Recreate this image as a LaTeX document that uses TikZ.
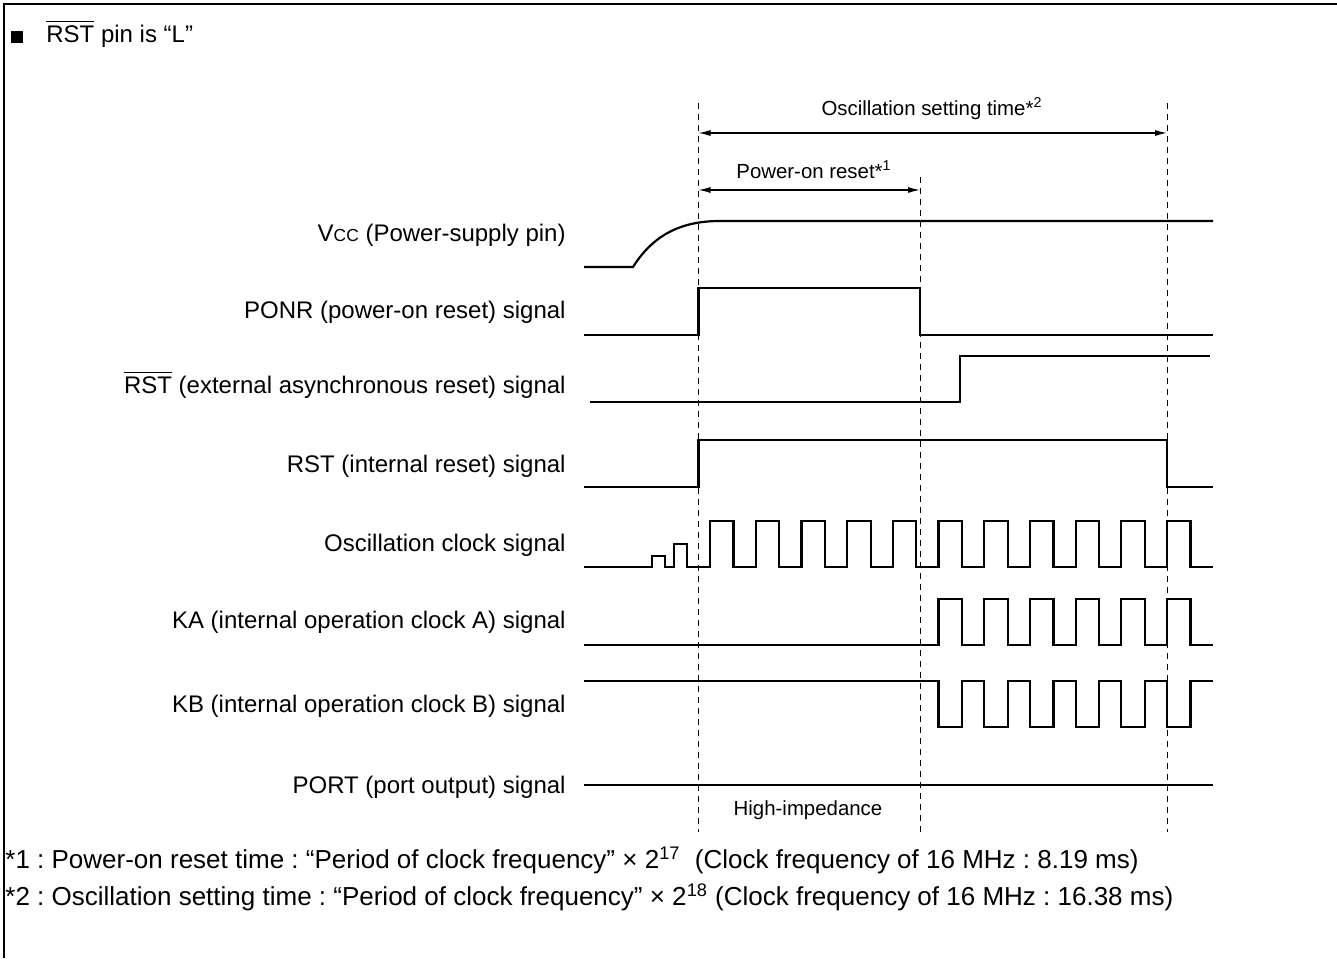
\documentclass[tikz,border=0pt]{standalone}
\usepackage{fontspec}
\setmainfont{Liberation Sans}
\usetikzlibrary{arrows.meta,positioning}
\tikzset
{
	signal/.style = {line width=1.1pt, line join=miter},
	marker/.style = {dash pattern=on 3pt off 2.5pt, line width=0.5pt},
	span/.style = {line width=0.6pt, {Latex[length=6pt,width=3pt]}-{Latex[length=6pt,width=3pt]}},
	siglabel/.style = {anchor=base east, inner sep=0pt, font=\fontsize{12}{14}\selectfont},
	note/.style = {anchor=base, inner sep=0pt, font=\fontsize{10.2}{12}\selectfont},
	footnote/.style = {anchor=base west, inner sep=0pt, font=\fontsize{13}{15}\selectfont}
}
\newcommand{\negsig}[1]{\leavevmode\vbox{\hrule height 0.5pt\kern1.5pt\hbox{#1}}}
\frenchspacing

\begin{document}
\begin{tikzpicture}[x=0.5pt, y=-0.5pt]
\useasboundingbox (0,0) rectangle (1337,958);
\draw[line width=1.25pt] (4,958) -- (4,4) -- (1337,4);
\fill (11,31) rectangle (23,43);
\node[anchor=base west, inner sep=0pt, font=\fontsize{12}{14}\selectfont] (title) at (46,42) {\negsig{RST} pin is “L”};

\foreach \x/\top in {698.5/103, 920/177, 1167/103}
	\draw[marker] (\x,\top) -- (\x,832);

\coordinate (osc start) at (698.5,133);
\coordinate (osc stop) at (1167,133);
\coordinate (ponr start) at (698.5,190);
\coordinate (ponr stop) at (920,190);
\draw[span] (osc start) -- (osc stop);
\draw[span] (ponr start) -- (ponr stop);
\node[note] (osctime) at (932,115) {Oscillation setting time*\textsuperscript{2}};
\node[note] (ponrtime) at (814,178) {Power-on reset*\textsuperscript{1}};

\node[siglabel] (vcc) at (566,241) {V{\fontsize{8.7}{10}\selectfont CC} (Power-supply pin)};
\node[siglabel] (ponr) at (566,318) {PONR (power-on reset) signal};
\node[siglabel] (rstx) at (566,393) {\negsig{RST} (external asynchronous reset) signal};
\node[siglabel] (rst) at (566,472) {RST (internal reset) signal};
\node[siglabel] (osc) at (566,551) {Oscillation clock signal};
\node[siglabel] (ka) at (566,628) {KA (internal operation clock A) signal};
\node[siglabel] (kb) at (566,712) {KB (internal operation clock B) signal};
\node[siglabel] (port) at (566,793) {PORT (port output) signal};

\draw[signal] (584,267) -- (633,267) .. controls (655,232) and (685,221) .. (720,221) -- (1213,221);
\draw[signal] (584,335) -- (698.5,335) -- (698.5,288) -- (920,288) -- (920,335) -- (1213,335);
\draw[signal] (590,402) -- (960,402) -- (960,356) -- (1210,356);
\draw[signal] (584,487) -- (698.5,487) -- (698.5,440) -- (1167,440) -- (1167,487) -- (1213,487);
\draw[signal] (584,567) -- (652,567) -- (652,556) -- (665,556) -- (665,567) -- (674,567) -- (674,544) -- (687,544) -- (687,567) -- (710,567)
	\foreach \k in {0,...,10} { -- ++(0,-46) -- ++(23.5,0) -- ++(0,46) -- ++(22.2,0) };
\draw[signal] (584,645) -- (938.5,645)
	\foreach \k in {0,...,5} { -- ++(0,-46) -- ++(23.5,0) -- ++(0,46) -- ++(22.2,0) };
\draw[signal] (584,681) -- (938.5,681)
	\foreach \k in {0,...,5} { -- ++(0,46) -- ++(23.5,0) -- ++(0,-46) -- ++(22.2,0) };
\draw[signal] (584,785) -- (1213,785);
\node[note] (hiz) at (808,815) {High-impedance};

\node[footnote] (fn1) at (5,868) {*1 : Power-on reset time : “Period of clock frequency” × 2\textsuperscript{17}\ \ (Clock frequency of 16 MHz : 8.19 ms)};
\node[footnote] (fn2) at (5,905) {*2 : Oscillation setting time : “Period of clock frequency” × 2\textsuperscript{18} (Clock frequency of 16 MHz : 16.38 ms)};
\end{tikzpicture}
\end{document}
